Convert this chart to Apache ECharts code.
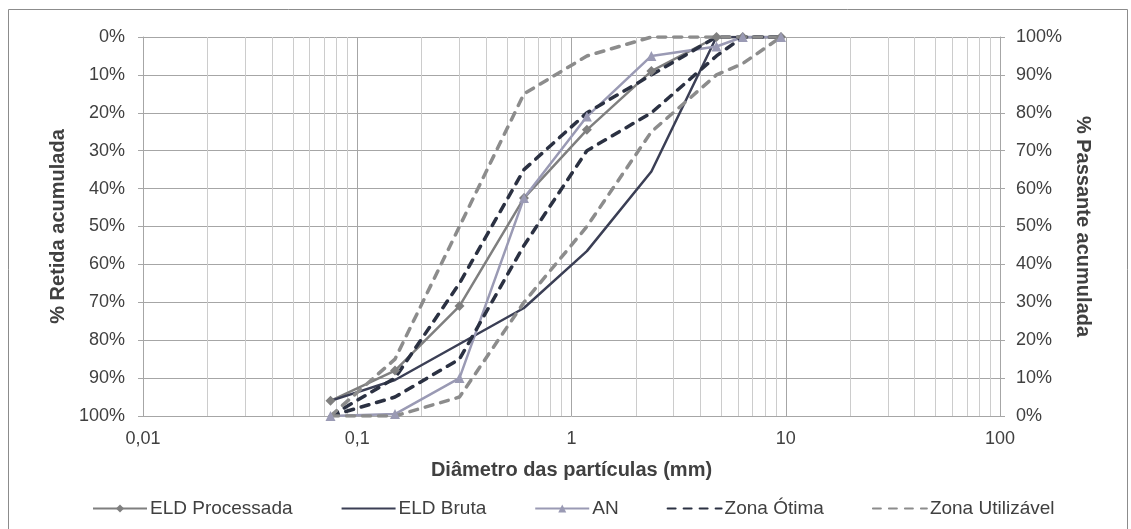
<!DOCTYPE html>
<html>
<head>
<meta charset="utf-8">
<script src="https://cdn.jsdelivr.net/npm/echarts@6/dist/echarts.min.js"></script>
<style>
  html, body { margin: 0; padding: 0; background: #fff; }
  #chart { width: 1131px; height: 529px; }
</style>
</head>
<body>
<div id="chart"></div>
<script>
// ------------------------------
// Data (sieve openings in mm, % retained accumulated)
// ------------------------------
var sieves = [0.075, 0.15, 0.3, 0.6, 1.18, 2.36, 4.75, 6.3, 9.5];
var eldProcessada = [96, 88, 71, 42.5, 24.5, 9, 0, 0, 0];
var eldBruta = [96, 90.5, 81, 71.5, 56.5, 35.5, 0, 0, 0];
var an = [100, 99.5, 90, 42.5, 21, 5, 2.5, 0, 0];
var zonaOtimaInf = [100, 90, 65, 35, 20, 10, 0, 0, 0];
var zonaOtimaSup = [100, 95, 85, 55, 30, 20, 5, 0, 0];
var zonaUtilInf = [100, 85, 50, 15, 5, 0, 0, 0, 0];
var zonaUtilSup = [100, 100, 95, 70, 50, 25, 10, 7, 0];

var xTickLabels = ['0,01', '0,1', '1', '10', '100'];

function pairs(values) {
    return sieves.map(function (s, i) { return [s, values[i]]; });
}

// minor log gridlines (2..9 of each decade)
var minorLines = [];
for (var e = -2; e < 2; e++) {
    for (var k = 2; k < 10; k++) {
        minorLines.push({ xAxis: k * Math.pow(10, e) });
    }
}

var font = 'Liberation Sans, Arial, sans-serif';
var textColor = '#404040';
var gridColor = '#a6a6a6';
var titleStyle = { fontSize: 20, fontWeight: 'bold', color: textColor, fontFamily: font };

var chart = echarts.init(document.getElementById('chart'));

function dashed(name, values, color) {
    return {
        name: name,
        type: 'line',
        data: pairs(values),
        showSymbol: false,
        symbol: 'none',
        z: 5,
        lineStyle: { color: color, width: 3.5, type: [8, 8], cap: 'round' },
        itemStyle: { color: color }
    };
}

var option = {
    animation: false,
    textStyle: { fontFamily: font },
    graphic: [{
        type: 'rect',
        shape: { x: 8.5, y: 9.5, width: 1119, height: 540 },
        style: { fill: 'none', stroke: '#8c8c8c', lineWidth: 1 },
        silent: true
    }],
    grid: { left: 143, right: 131, top: 37, bottom: 113 },
    legend: {
        bottom: 6,
        left: 87,
        itemWidth: 54,
        itemHeight: 10,
        itemGap: 48,
        textStyle: { fontSize: 19, color: textColor, fontFamily: font, padding: [0, 0, 0, -2] },
        data: [
            { name: 'ELD Processada' },
            { name: 'ELD Bruta', itemStyle: { opacity: 0 } },
            { name: 'AN' },
            { name: 'Zona Ótima', itemStyle: { opacity: 0 } },
            { name: 'Zona Utilizável', itemStyle: { opacity: 0 } }
        ]
    },
    xAxis: {
        type: 'log',
        logBase: 10,
        min: 0.01,
        max: 100,
        name: 'Diâmetro das partículas (mm)',
        nameLocation: 'middle',
        nameGap: 44,
        nameTextStyle: titleStyle,
        axisLine: { show: true, lineStyle: { color: gridColor } },
        axisTick: { show: false },
        axisLabel: {
            fontSize: 18, color: textColor, margin: 14,
            formatter: function (v) {
                return xTickLabels[Math.round(Math.log10(v)) + 2];
            }
        },
        splitLine: { show: true, lineStyle: { color: gridColor, width: 1 } }
    },
    yAxis: [{
        type: 'value',
        inverse: true,
        min: 0,
        max: 100,
        interval: 10,
        name: '% Retida acumulada',
        nameLocation: 'middle',
        nameGap: 70,
        nameRotate: 90,
        nameTextStyle: titleStyle,
        axisLine: { show: true, lineStyle: { color: gridColor } },
        axisTick: { show: true, length: 5, lineStyle: { color: gridColor } },
        axisLabel: { fontSize: 18, color: textColor, margin: 18, formatter: '{value}%' },
        splitLine: { show: true, lineStyle: { color: gridColor } }
    }, {
        type: 'value',
        position: 'right',
        min: 0,
        max: 100,
        interval: 10,
        name: '% Passante acumulada',
        nameLocation: 'middle',
        nameGap: 57,
        nameRotate: -90,
        nameTextStyle: titleStyle,
        axisLine: { show: true, lineStyle: { color: gridColor } },
        axisTick: { show: true, length: 5, lineStyle: { color: gridColor } },
        axisLabel: { fontSize: 18, color: textColor, margin: 16, formatter: '{value}%' },
        splitLine: { show: false }
    }],
    series: [{
        // minor log gridlines
        type: 'line',
        data: [],
        silent: true,
        z: 1,
        markLine: {
            silent: true,
            symbol: 'none',
            animation: false,
            label: { show: false },
            lineStyle: { color: '#cccccc', width: 1, type: 'solid' },
            data: minorLines
        }
    }, {
        name: 'ELD Processada',
        type: 'line',
        data: pairs(eldProcessada),
        symbol: 'diamond',
        symbolSize: 10,
        z: 5,
        lineStyle: { color: '#7f7f7f', width: 2.5 },
        itemStyle: { color: '#7f7f7f' }
    }, {
        name: 'ELD Bruta',
        type: 'line',
        data: pairs(eldBruta),
        symbol: 'none',
        z: 5,
        lineStyle: { color: '#3b3f55', width: 2.5 },
        itemStyle: { color: '#3b3f55' }
    }, {
        name: 'AN',
        type: 'line',
        data: pairs(an),
        symbol: 'triangle',
        symbolSize: 10,
        z: 5,
        lineStyle: { color: '#9a9ab4', width: 2.5 },
        itemStyle: { color: '#9a9ab4' }
    },
        dashed('Zona Ótima', zonaOtimaInf, '#2b3142'),
        dashed('Zona Ótima', zonaOtimaSup, '#2b3142'),
        dashed('Zona Utilizável', zonaUtilInf, '#8c8c8c'),
        dashed('Zona Utilizável', zonaUtilSup, '#8c8c8c')
    ]
};

chart.setOption(option);
</script>
</body>
</html>
